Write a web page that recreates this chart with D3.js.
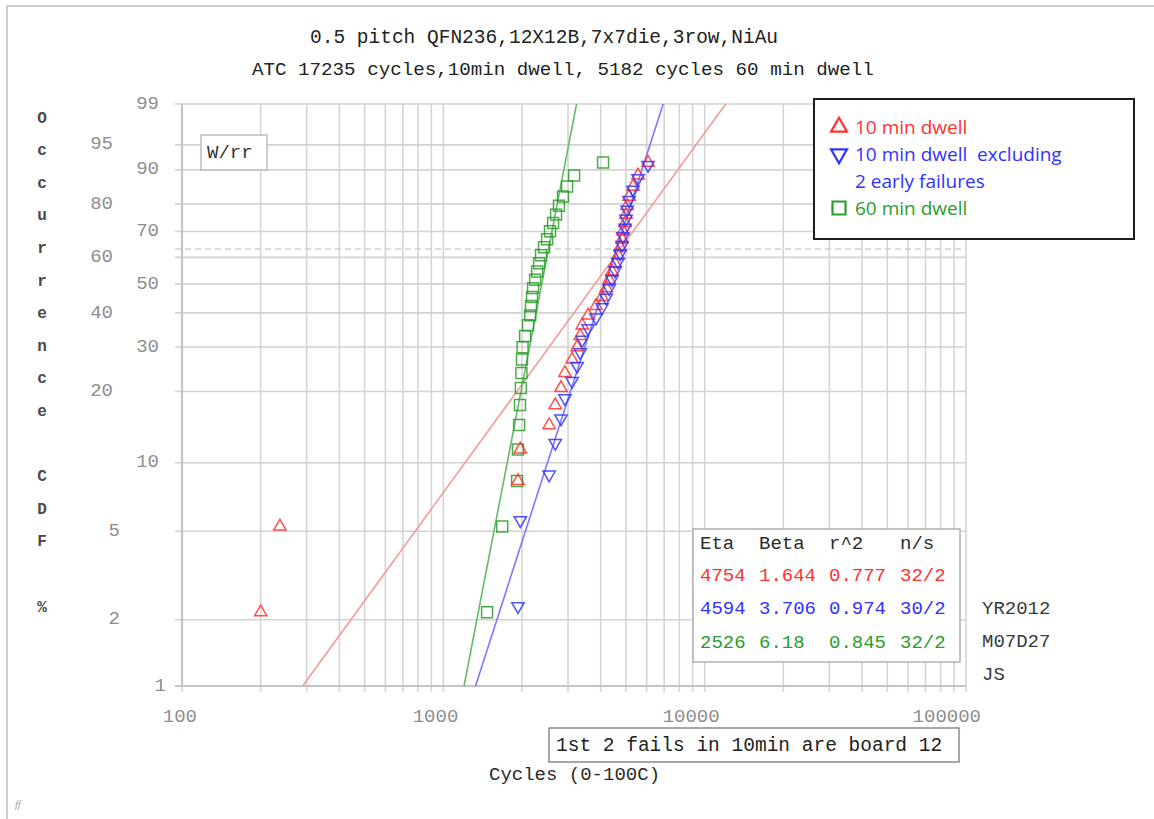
<!DOCTYPE html>
<html>
<head>
<meta charset="utf-8">
<script src="https://cdn.jsdelivr.net/npm/d3@7"></script>
<style>
body{margin:0;background:#fff;}
svg{display:block;}
.mono{font-family:"Liberation Mono","DejaVu Sans Mono",monospace;}
.sans{font-family:"Open Sans",Lato,sans-serif;}
</style>
</head>
<body>
<script>
// chart data
var titleLines=['0.5 pitch QFN236,12X12B,7x7die,3row,NiAu','ATC 17235 cycles,10min dwell, 5182 cycles 60 min dwell'];
var yTickPct=[1,2,5,10,20,30,40,50,60,70,80,90,95,99];
var yTickLeftCol=[2,5,20,40,60,80,95];
var xTickLabels=[100,1000,10000,100000];

var tenMinCycles=[200,237,1930,1970,2540,2680,2820,2920,3110,3250,3340,3400,3580,3840,4050,4200,4310,4420,4540,4660,4750,4830,4870,4960,5000,5050,5140,5320,5560,6070];
var tenMinOcc=[2.16,5.25,8.33,11.42,14.51,17.59,20.68,23.77,26.85,29.94,33.02,36.11,39.2,42.28,45.37,48.46,51.54,54.63,57.72,60.8,63.89,66.98,70.06,73.15,76.23,79.32,82.41,85.49,88.58,91.67];

var exclCycles=[1930,1970,2540,2680,2820,2920,3110,3250,3340,3400,3580,3840,4050,4200,4310,4420,4540,4660,4750,4830,4870,4960,5000,5050,5140,5320,5560,6070];
var exclOcc=[2.3,5.59,8.88,12.17,15.46,18.75,22.04,25.33,28.62,31.91,35.2,38.49,41.78,45.07,48.36,51.64,54.93,58.22,61.51,64.8,68.09,71.38,74.67,77.96,81.25,84.54,87.83,91.12];

var sixtyMinCycles=[1470,1680,1915,1930,1950,1965,1980,1990,2000,2010,2055,2110,2150,2165,2185,2205,2245,2285,2325,2365,2430,2495,2560,2630,2700,2770,2870,2975,3165,4085];
var sixtyMinOcc=[2.16,5.25,8.33,11.42,14.51,17.59,20.68,23.77,26.85,29.94,33.02,36.11,39.2,42.28,45.37,48.46,51.54,54.63,57.72,60.8,63.89,66.98,70.06,73.15,76.23,79.32,82.41,85.49,88.58,91.67];

var fitEta=[4754,4594,2526];
var fitBeta=[1.644,3.706,6.18];
var fitR2=['0.777','0.974','0.845'];
var fitNS=['32/2','30/2','32/2'];
var tableHeader=['Eta','Beta','r^2','n/s'];
var legendLabels=[['10 min dwell'],['10 min dwell  excluding','2 early failures'],['60 min dwell']];
var sideNotes=['YR2012','M07D27','JS'];

var markColor=['#ff3030','#3232ff','#2c9c2c'];
var lineColor=['#f49a9a','#7a7aff','#66bb66'];

var width=1154,height=819;
var svg=d3.select('body').append('svg').attr('width',width).attr('height',height);

// page frame
svg.append('path').attr('d','M7,819V6H1154').attr('fill','none').attr('stroke','#cfcfcf').attr('stroke-width',2);

var x=d3.scaleLog().domain([100,100000]).range([182,966]);
var weib=function(p){return Math.log(-Math.log(1-p/100));};
var yLin=d3.scaleLinear().domain([weib(1),weib(99)]).range([686,104]);
var y=function(p){return yLin(weib(p));};

var grid=svg.append('g');
grid.selectAll('.vg').data(x.ticks()).enter().append('line')
.attr('x1',d=>x(d)).attr('x2',d=>x(d)).attr('y1',104).attr('y2',692)
.attr('stroke','#d5d5d5').attr('stroke-width',1.6);
grid.selectAll('.hg').data(yTickPct).enter().append('line')
.attr('x1',175).attr('x2',966).attr('y1',d=>y(d)).attr('y2',d=>y(d))
.attr('stroke','#d2d2d2').attr('stroke-width',1.6);
// 63.2% characteristic life line
grid.append('line').attr('x1',175).attr('x2',966).attr('y1',yLin(0)).attr('y2',yLin(0))
.attr('stroke','#cfcfcf').attr('stroke-width',1.4).attr('stroke-dasharray','6,4');
// frame
grid.append('path').attr('d','M182,686V104').attr('stroke','#c4c4c4').attr('stroke-width',2.2);
grid.append('path').attr('d','M175,686H966').attr('stroke','#c4c4c4').attr('stroke-width',2.2);

// y tick labels in two columns
svg.append('g').selectAll('text').data(yTickPct).enter().append('text')
.attr('class','mono')
.attr('x',d=>{
    var base=yTickLeftCol.indexOf(d)>=0?113:159;
    return d<10?base+7:base;
})
.attr('y',d=>y(d)-2)
.attr('dy','0.35em')
.attr('text-anchor','end')
.attr('font-size',19)
.attr('fill','#8e8e8e')
.text(d=>d);

// x tick labels
svg.append('g').selectAll('text').data(xTickLabels).enter().append('text')
.attr('class','mono')
.attr('x',d=>x(d)+15)
.attr('y',722)
.attr('text-anchor','end')
.attr('font-size',19)
.attr('fill','#8e8e8e')
.text(d=>d);

// vertical axis title
svg.append('g').selectAll('text').data('Occurrence CDF %'.split('')).enter().append('text')
.attr('class','mono')
.attr('x',42).attr('y',(d,i)=>117+i*32.6).attr('dy','0.35em')
.attr('text-anchor','middle').attr('font-size',16).attr('font-weight','bold')
.attr('fill','#4a4a4a').text(d=>d);

// titles
svg.append('text').attr('class','mono').attr('x',310).attr('y',43).attr('font-size',19.5).attr('fill','#222').text(titleLines[0]);
svg.append('text').attr('class','mono').attr('x',252).attr('y',75).attr('font-size',19.2).attr('fill','#222').text(titleLines[1]);

// fit lines
svg.append('clipPath').attr('id','plotclip').append('rect').attr('x',182).attr('y',104).attr('width',784).attr('height',582);
var fits=svg.append('g').attr('clip-path','url(#plotclip)');
fitEta.forEach(function(eta,i){
    var t1=eta*Math.pow(-Math.log(0.99),1/fitBeta[i]);
    var t99=eta*Math.pow(-Math.log(0.01),1/fitBeta[i]);
    fits.append('line')
    .attr('x1',x(t1)).attr('y1',y(1)).attr('x2',x(t99)).attr('y2',y(99))
    .attr('stroke',lineColor[i]).attr('stroke-width',1.6);
});

// markers
var triUp=d3.symbol(d3.symbolTriangle,66)();
var sq=d3.symbol(d3.symbolSquare,120)();
function plotSeries(cyc,occ,path,rot,color){
    svg.append('g').selectAll('path').data(cyc).enter().append('path')
    .attr('d',path)
    .attr('transform',(d,i)=>'translate('+x(d)+','+y(occ[i])+') rotate('+rot+')')
    .attr('fill','none').attr('stroke',color).attr('stroke-width',1.5).attr('stroke-opacity',0.85);
}
plotSeries(sixtyMinCycles,sixtyMinOcc,sq,0,markColor[2]);
plotSeries(tenMinCycles,tenMinOcc,triUp,0,markColor[0]);
plotSeries(exclCycles,exclOcc,triUp,180,markColor[1]);

// W/rr box
svg.append('rect').attr('x',201).attr('y',135).attr('width',66).attr('height',35).attr('fill','#fff').attr('stroke','#bdbdbd').attr('stroke-width',1.5);
svg.append('text').attr('class','mono').attr('x',207).attr('y',158).attr('font-size',19).attr('fill','#333').text('W/rr');

// legend
var leg=svg.append('g');
leg.append('rect').attr('x',814).attr('y',99).attr('width',320).attr('height',140).attr('fill','#fff').attr('stroke','#1c1c1c').attr('stroke-width',2);
var legSym=[d3.symbol(d3.symbolTriangle,110)(),d3.symbol(d3.symbolTriangle,110)(),d3.symbol(d3.symbolSquare,170)()];
var legRot=[0,180,0];
var legRowY=[[127],[154,181],[208]];
legendLabels.forEach(function(lines,i){
    leg.append('path').attr('d',legSym[i]).attr('transform','translate(839,'+legRowY[i][0]+') rotate('+legRot[i]+')')
    .attr('fill','none').attr('stroke',markColor[i]).attr('stroke-width',2.2);
    lines.forEach(function(t,j){
        leg.append('text').attr('class','sans').attr('x',855).attr('y',legRowY[i][j]).attr('dy','0.35em')
        .attr('font-size',19).attr('fill',markColor[i]).style('white-space','pre').text(t);
    });
});

// stats table
var tbl=svg.append('g');
tbl.append('rect').attr('x',693).attr('y',529).attr('width',267).attr('height',133).attr('fill','#fff').attr('stroke','#b0b0b0').attr('stroke-width',1.5);
var colX=[700,759,829,900];
var rowY=[549,581,614,648];
tableHeader.forEach(function(h,c){
    tbl.append('text').attr('class','mono').attr('x',colX[c]).attr('y',rowY[0]).attr('font-size',19).attr('fill','#2a2a2a').text(h);
});
fitEta.forEach(function(eta,i){
    var cells=[eta,fitBeta[i],fitR2[i],fitNS[i]];
    cells.forEach(function(v,c){
        tbl.append('text').attr('class','mono').attr('x',colX[c]).attr('y',rowY[i+1]).attr('font-size',19).attr('fill',markColor[i]).text(v);
    });
});
sideNotes.forEach(function(t,i){
    svg.append('text').attr('class','mono').attr('x',982).attr('y',614+i*33).attr('font-size',19).attr('fill','#3a3a3a').text(t);
});

// note box and x title
svg.append('rect').attr('x',549).attr('y',728).attr('width',410).attr('height',34).attr('fill','#fff').attr('stroke','#8a8a8a').attr('stroke-width',1.5);
svg.append('text').attr('class','mono').attr('x',556).attr('y',751).attr('font-size',19.5).attr('fill','#222').text('1st 2 fails in 10min are board 12');
svg.append('text').attr('class','mono').attr('x',489).attr('y',780).attr('font-size',19).attr('fill','#2a2a2a').text('Cycles (0-100C)');

svg.append('text').attr('x',15).attr('y',808).attr('font-size',10).attr('fill','#999').attr('font-style','italic').text('ff');
</script>
</body>
</html>
